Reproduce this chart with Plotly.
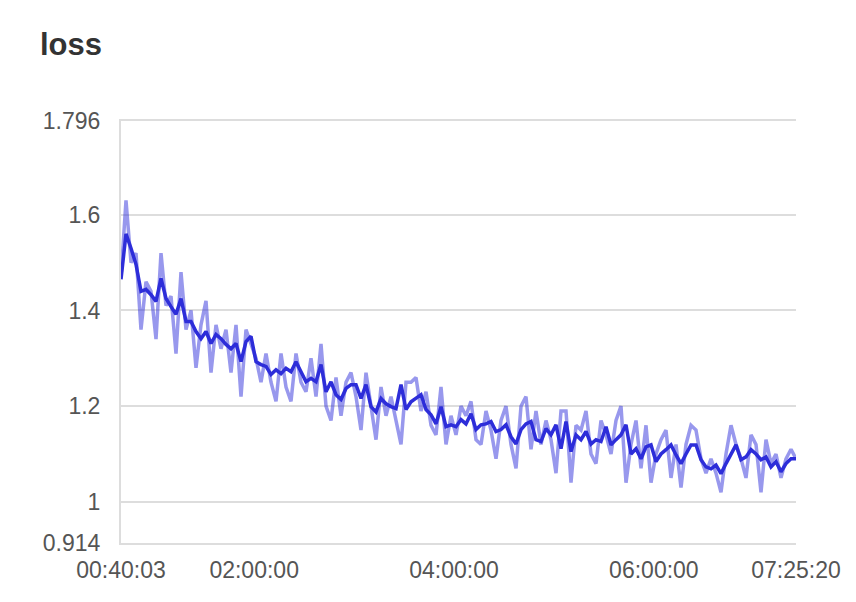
import pandas as pd
import plotly.graph_objects as go

start_time = "2000-01-01 00:40:03"
end_time = "2000-01-01 07:25:20"

smoothed = [
    1.465, 1.56, 1.53, 1.496, 1.44, 1.444, 1.433, 1.419, 1.467, 1.425, 1.408, 1.392, 1.425, 1.377, 1.377, 1.356, 1.341, 1.356, 1.331, 1.35, 1.341, 1.329, 1.32,
    1.331, 1.293, 1.335, 1.346, 1.293, 1.287, 1.283, 1.266, 1.276, 1.268, 1.279, 1.272, 1.293, 1.272, 1.251, 1.258, 1.251, 1.287, 1.23, 1.251, 1.224, 1.214, 1.237,
    1.245, 1.245, 1.216, 1.245, 1.199, 1.188, 1.216, 1.205, 1.199, 1.195, 1.245, 1.193, 1.209, 1.216, 1.224, 1.193, 1.182, 1.163, 1.199, 1.157, 1.161, 1.157, 1.172,
    1.163, 1.184, 1.151, 1.161, 1.163, 1.168, 1.147, 1.151, 1.161, 1.136, 1.121, 1.151, 1.163, 1.168, 1.13, 1.126, 1.153, 1.14, 1.161, 1.111, 1.168, 1.105, 1.14,
    1.13, 1.147, 1.121, 1.13, 1.126, 1.157, 1.119, 1.13, 1.14, 1.161, 1.1, 1.111, 1.09, 1.115, 1.119, 1.084, 1.1, 1.109, 1.119, 1.098, 1.08, 1.1, 1.119,
    1.119, 1.088, 1.073, 1.069, 1.077, 1.059, 1.08, 1.098, 1.119, 1.088, 1.094, 1.109, 1.1, 1.088, 1.094, 1.073, 1.084, 1.063, 1.08, 1.09, 1.09,
]

raw = [
    1.47, 1.63, 1.50, 1.52, 1.36, 1.46, 1.44, 1.34, 1.52, 1.41, 1.43, 1.31, 1.48, 1.36, 1.40, 1.28, 1.37, 1.42, 1.27, 1.37, 1.32, 1.36, 1.27,
    1.37, 1.22, 1.36, 1.33, 1.30, 1.25, 1.31, 1.25, 1.21, 1.31, 1.24, 1.21, 1.31, 1.25, 1.23, 1.30, 1.22, 1.33, 1.20, 1.17, 1.26, 1.18, 1.25,
    1.27, 1.22, 1.15, 1.27, 1.20, 1.13, 1.24, 1.18, 1.22, 1.17, 1.12, 1.25, 1.25, 1.26, 1.19, 1.23, 1.16, 1.14, 1.24, 1.12, 1.18, 1.14, 1.20,
    1.18, 1.21, 1.13, 1.12, 1.19, 1.15, 1.09, 1.17, 1.20, 1.12, 1.07, 1.20, 1.22, 1.11, 1.19, 1.12, 1.17, 1.13, 1.06, 1.19, 1.19, 1.04, 1.16,
    1.15, 1.19, 1.10, 1.08, 1.17, 1.14, 1.10, 1.17, 1.20, 1.04, 1.12, 1.17, 1.07, 1.16, 1.04, 1.10, 1.13, 1.15, 1.05, 1.12, 1.03, 1.12, 1.16,
    1.15, 1.09, 1.06, 1.09, 1.06, 1.02, 1.10, 1.16, 1.12, 1.09, 1.05, 1.14, 1.12, 1.02, 1.13, 1.08, 1.10, 1.05, 1.09, 1.11, 1.09,
]

y_ticks = [0.914, 1, 1.2, 1.4, 1.6, 1.796]
y_tick_labels = ["0.914", "1", "1.2", "1.4", "1.6", "1.796"]
x_ticks = ["2000-01-01 00:40:03", "2000-01-01 02:00:00", "2000-01-01 04:00:00",
           "2000-01-01 06:00:00", "2000-01-01 07:25:20"]
x_tick_labels = ["00:40:03", "02:00:00", "04:00:00", "06:00:00", "07:25:20"]

wall_time = pd.date_range(start=start_time, end=end_time, periods=len(smoothed))

fig = go.Figure()
fig.add_trace(go.Scatter(
    x=wall_time, y=raw, mode="lines",
    line=dict(color="rgba(50,50,220,0.5)", width=3.5),
    hoverinfo="skip", showlegend=False,
))
fig.add_trace(go.Scatter(
    x=wall_time, y=smoothed, mode="lines",
    line=dict(color="#2d2dd9", width=3.5),
    showlegend=False,
))

font_family = "Liberation Sans, Arial, sans-serif"
fig.update_layout(
    width=856, height=602,
    margin=dict(l=113, r=68, t=113, b=67),
    paper_bgcolor="white", plot_bgcolor="white",
    font=dict(family=font_family, color="#555555", size=23),
    title=dict(text="<b>loss</b>", x=32 / 856, xanchor="left", xref="container",
               y=1 - 36 / 602, yanchor="middle", yref="container",
               font=dict(size=31, color="#333333", family=font_family)),
)
fig.update_xaxes(
    type="date",
    range=[start_time, end_time],
    tickvals=x_ticks, ticktext=x_tick_labels,
    showgrid=False, zeroline=False,
    showline=True, mirror=True, linecolor="#dddddd", linewidth=1.5,
    ticks="", ticklabelstandoff=6,
    tickfont=dict(size=23, color="#555555"),
)
fig.update_yaxes(
    range=[0.914, 1.796],
    tickvals=y_ticks, ticktext=y_tick_labels,
    showgrid=True, gridcolor="#dddddd", gridwidth=1.5,
    zeroline=False, showline=True, linecolor="#dddddd", linewidth=2,
    ticks="", ticklabelstandoff=14,
    tickfont=dict(size=23, color="#555555"),
)

fig.write_html("out.html")
